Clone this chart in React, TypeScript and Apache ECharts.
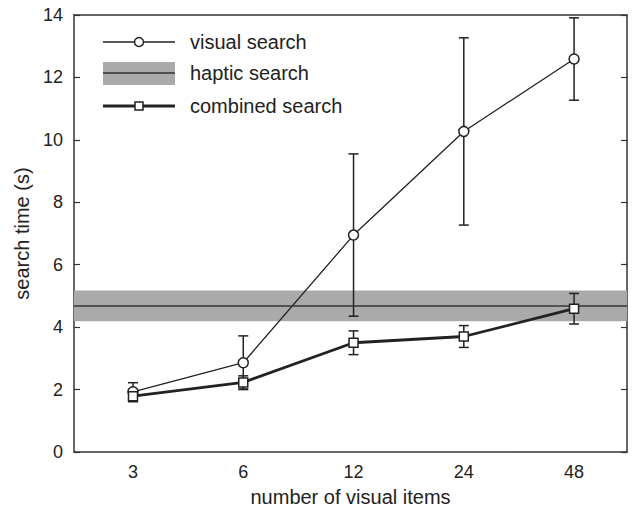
import React, { useEffect, useRef } from "react";
import * as echarts from "echarts";

const categories = ["3", "6", "12", "24", "48"];
const visualMean = [1.93, 2.86, 6.95, 10.27, 12.59];
const visualErr = [0.29, 0.86, 2.6, 3.0, 1.32];
const combinedMean = [1.79, 2.23, 3.5, 3.7, 4.59];
const combinedErr = [0.18, 0.21, 0.38, 0.35, 0.49];
const hapticMean = [4.68];
const hapticErr = [0.49];
const yTicks = [0, 2, 4, 6, 8, 10, 12, 14];

const FONT = "Liberation Sans";
const INK = "#222";

export default function App() {
  const ref = useRef<HTMLDivElement>(null);
  useEffect(() => {
    document.body.style.margin = "0";
    const chart = echarts.init(ref.current!, null, { renderer: "svg" });
    const errData = (m: number[], e: number[]) =>
      m.map((v, i) => [i, v - e[i], v + e[i]]);
    const errRender = (params: any, api: any) => {
      const x = api.value(0);
      const lo = api.coord([x, api.value(1)]);
      const hi = api.coord([x, api.value(2)]);
      const w = 5;
      const st = { stroke: INK, lineWidth: 1.5 };
      return {
        type: "group",
        children: [
          { type: "line", shape: { x1: lo[0], y1: lo[1], x2: hi[0], y2: hi[1] }, style: st },
          { type: "line", shape: { x1: lo[0] - w, y1: lo[1], x2: lo[0] + w, y2: lo[1] }, style: st },
          { type: "line", shape: { x1: hi[0] - w, y1: hi[1], x2: hi[0] + w, y2: hi[1] }, style: st },
        ],
      };
    };
    const yMin = yTicks[0];
    const yMax = yTicks[yTicks.length - 1];
    const legendX0 = 103;
    const legendX1 = 175;
    const legendText = 190;
    const rows = [42, 73, 106];
    const axisLine = { show: true, onZero: false, lineStyle: { color: "#333", width: 1.5 } };
    chart.setOption({
      animation: false,
      grid: { left: 74, top: 15, right: 6, bottom: 55, containLabel: false, outerBoundsMode: "none" },
      xAxis: [
        {
          type: "value",
          min: -0.535,
          max: 4.48,
          axisLine,
          axisTick: { show: false },
          splitLine: { show: false },
          axisLabel: {
            formatter: (v: number) => (Number.isInteger(v) && categories[v] !== undefined ? categories[v] : ""),
            fontSize: 18,
            fontFamily: FONT,
            color: INK,
            margin: 11,
            showMinLabel: true,
            showMaxLabel: true,
          },
          name: "number of visual items",
          nameLocation: "middle",
          nameGap: 35,
          nameTextStyle: { fontSize: 20, fontFamily: FONT, color: INK },
        },
        {
          type: "value",
          position: "top",
          min: -0.535,
          max: 4.48,
          axisLine,
          axisTick: { show: false },
          axisLabel: { show: false },
          splitLine: { show: false },
        },
      ],
      yAxis: [
        {
          type: "value",
          min: yMin,
          max: yMax,
          interval: 2,
          axisLine,
          axisTick: { show: true, inside: true, length: 6, lineStyle: { color: "#333", width: 1.2 } },
          splitLine: { show: false },
          axisLabel: { fontSize: 18, fontFamily: FONT, color: INK, margin: 11 },
          name: "search time (s)",
          nameLocation: "middle",
          nameGap: 41,
          nameTextStyle: { fontSize: 20, fontFamily: FONT, color: INK },
        },
        {
          type: "value",
          position: "right",
          min: yMin,
          max: yMax,
          interval: 2,
          axisLine,
          axisTick: { show: true, inside: true, length: 6, lineStyle: { color: "#333", width: 1.2 } },
          splitLine: { show: false },
          axisLabel: { show: false },
        },
      ],
      series: [
        {
          type: "line",
          name: "haptic search",
          data: [],
          silent: true,
          markArea: {
            silent: true,
            itemStyle: { color: "#aaaaaa" },
            data: [[{ yAxis: hapticMean[0] - hapticErr[0] }, { yAxis: hapticMean[0] + hapticErr[0] }]],
          },
          markLine: {
            silent: true,
            symbol: "none",
            label: { show: false },
            lineStyle: { color: "#333", width: 1.5, type: "solid" },
            data: [{ yAxis: hapticMean[0] }],
          },
        },
        {
          type: "custom",
          renderItem: errRender,
          data: errData(visualMean, visualErr),
          z: 3,
        },
        {
          type: "custom",
          renderItem: errRender,
          data: errData(combinedMean, combinedErr),
          z: 3,
        },
        {
          type: "line",
          name: "visual search",
          data: visualMean.map((v, i) => [i, v]),
          symbol: "circle",
          symbolSize: 10,
          showAllSymbol: true,
          lineStyle: { color: INK, width: 1.3 },
          itemStyle: { color: "#fff", borderColor: INK, borderWidth: 1.5 },
          z: 4,
        },
        {
          type: "line",
          name: "combined search",
          data: combinedMean.map((v, i) => [i, v]),
          symbol: "rect",
          symbolSize: 9,
          showAllSymbol: true,
          lineStyle: { color: INK, width: 2.8 },
          itemStyle: { color: "#fff", borderColor: INK, borderWidth: 1.5 },
          z: 5,
        },
      ],
      graphic: [
        { type: "line", shape: { x1: legendX0, y1: rows[0], x2: legendX1, y2: rows[0] }, style: { stroke: INK, lineWidth: 1.3 } },
        { type: "circle", shape: { cx: (legendX0 + legendX1) / 2, cy: rows[0], r: 4.5 }, style: { fill: "#fff", stroke: INK, lineWidth: 1.5 } },
        { type: "text", x: legendText, y: rows[0], style: { text: "visual search", fontSize: 20, fontFamily: FONT, fill: INK, verticalAlign: "middle" } },
        { type: "rect", shape: { x: legendX0, y: rows[1] - 11, width: legendX1 - legendX0, height: 23 }, style: { fill: "#aaaaaa" } },
        { type: "line", shape: { x1: legendX0, y1: rows[1], x2: legendX1, y2: rows[1] }, style: { stroke: "#333", lineWidth: 1.5 } },
        { type: "text", x: legendText, y: rows[1], style: { text: "haptic search", fontSize: 20, fontFamily: FONT, fill: INK, verticalAlign: "middle" } },
        { type: "line", shape: { x1: legendX0, y1: rows[2], x2: legendX1, y2: rows[2] }, style: { stroke: INK, lineWidth: 2.8 } },
        { type: "rect", shape: { x: (legendX0 + legendX1) / 2 - 4, y: rows[2] - 4, width: 8, height: 8 }, style: { fill: "#fff", stroke: INK, lineWidth: 1.5 } },
        { type: "text", x: legendText, y: rows[2], style: { text: "combined search", fontSize: 20, fontFamily: FONT, fill: INK, verticalAlign: "middle" } },
      ],
    });
    return () => chart.dispose();
  }, []);
  return <div ref={ref} style={{ width: 633, height: 507 }} />;
}
